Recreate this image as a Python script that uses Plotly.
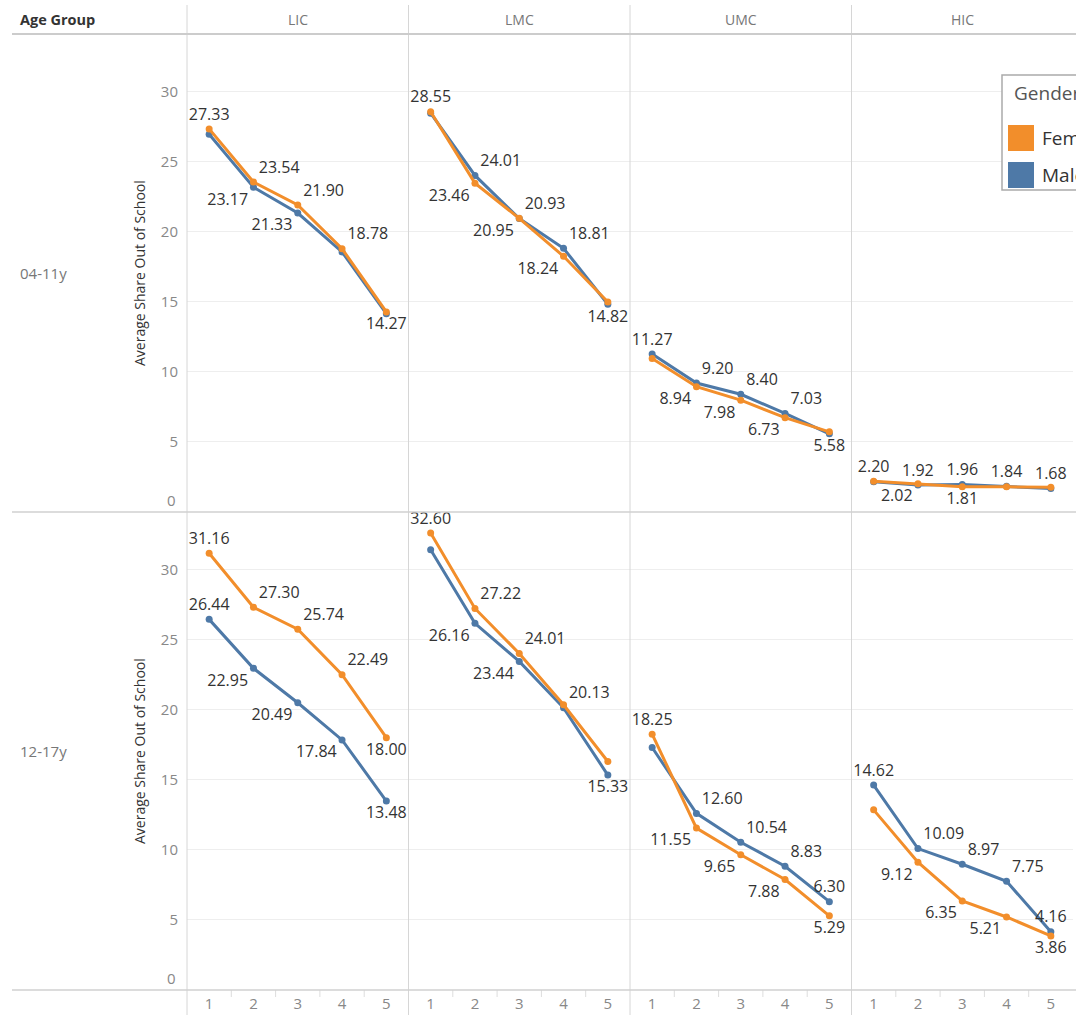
import plotly.graph_objects as go

W, H = 1076, 1015

# ---------------- data ----------------
quintiles = [1, 2, 3, 4, 5]
income_groups = ["LIC", "LMC", "UMC", "HIC"]
age_groups = ["04-11y", "12-17y"]
y_ticks = [0, 5, 10, 15, 20, 25, 30]

f_0411_lic = [27.33, 23.54, 21.90, 18.78, 14.27]
m_0411_lic = [26.95, 23.17, 21.33, 18.55, 14.15]
f_0411_lmc = [28.55, 23.46, 20.95, 18.24, 14.98]
m_0411_lmc = [28.45, 24.01, 20.93, 18.81, 14.82]
f_0411_umc = [10.95, 8.94, 7.98, 6.73, 5.72]
m_0411_umc = [11.27, 9.20, 8.40, 7.03, 5.58]
f_0411_hic = [2.20, 2.02, 1.81, 1.80, 1.76]
m_0411_hic = [2.16, 1.92, 1.96, 1.84, 1.68]

f_1217_lic = [31.16, 27.30, 25.74, 22.49, 18.00]
m_1217_lic = [26.44, 22.95, 20.49, 17.84, 13.48]
f_1217_lmc = [32.60, 27.22, 24.01, 20.35, 16.30]
m_1217_lmc = [31.40, 26.16, 23.44, 20.13, 15.33]
f_1217_umc = [18.25, 11.55, 9.65, 7.88, 5.29]
m_1217_umc = [17.30, 12.60, 10.54, 8.83, 6.30]
f_1217_hic = [12.85, 9.12, 6.35, 5.21, 3.86]
m_1217_hic = [14.62, 10.09, 8.97, 7.75, 4.16]

female = {
    "04-11y": [f_0411_lic, f_0411_lmc, f_0411_umc, f_0411_hic],
    "12-17y": [f_1217_lic, f_1217_lmc, f_1217_umc, f_1217_hic],
}
male = {
    "04-11y": [m_0411_lic, m_0411_lmc, m_0411_umc, m_0411_hic],
    "12-17y": [m_1217_lic, m_1217_lmc, m_1217_umc, m_1217_hic],
}

# ---------------- styling ----------------
ORANGE = "#F28E2B"
BLUE = "#4E79A7"
FONT = "Open Sans"
TC, TR, BL, BC, N = "top center", "top right", "bottom left", "bottom center", None
label_pos = {
    ("04-11y", 0, "F"): [TC, TR, TR, TR, BC],
    ("04-11y", 0, "M"): [N, BL, BL, N, N],
    ("04-11y", 1, "F"): [TC, BL, BL, BL, N],
    ("04-11y", 1, "M"): [N, TR, TR, TR, BC],
    ("04-11y", 2, "F"): [N, BL, BL, BL, N],
    ("04-11y", 2, "M"): [TC, TR, TR, TR, BC],
    ("04-11y", 3, "F"): [TC, BL, BC, N, N],
    ("04-11y", 3, "M"): [N, TC, TC, TC, TC],
    ("12-17y", 0, "F"): [TC, TR, TR, TR, BC],
    ("12-17y", 0, "M"): [TC, BL, BL, BL, BC],
    ("12-17y", 1, "F"): [TC, TR, TR, N, N],
    ("12-17y", 1, "M"): [N, BL, BL, TR, BC],
    ("12-17y", 2, "F"): [TC, BL, BL, BL, BC],
    ("12-17y", 2, "M"): [N, TR, TR, TR, TC],
    ("12-17y", 3, "F"): [N, BL, BL, BL, BC],
    ("12-17y", 3, "M"): [TC, TR, TR, TR, TC],
}

col_px = [187, 408.5, 630, 851.5, 1073]
row_px = [34, 512, 990]


def px(x):
    return x / W


def py(y):
    return 1 - y / H


def note(x, y, text, size, color, xanchor="center", **kw):
    return dict(x=px(x), y=py(y), xref="paper", yref="paper", text=text,
                showarrow=False, xanchor=xanchor, yanchor="middle",
                font=dict(family=FONT, size=size, color=color), **kw)


fig = go.Figure()
layout = {}
shapes = []
annotations = []

for r, age in enumerate(age_groups):
    for c, grp in enumerate(income_groups):
        idx = r * 4 + c + 1
        xa = "x" if idx == 1 else f"x{idx}"
        ya = "y" if idx == 1 else f"y{idx}"
        for g, vals, color in (("M", male[age][c], BLUE), ("F", female[age][c], ORANGE)):
            pos = label_pos[(age, c, g)]
            texts = [f"{v:.2f}" if p else "" for v, p in zip(vals, pos)]
            tpos = [p if p else "top center" for p in pos]
            fig.add_trace(go.Scatter(
                x=quintiles, y=vals, mode="lines+markers+text",
                line=dict(color=color, width=3),
                marker=dict(color=color, size=7),
                text=texts, textposition=tpos,
                textfont=dict(family=FONT, size=16, color="#333333"),
                cliponaxis=False, showlegend=False,
                name="Female" if g == "F" else "Male",
                xaxis=xa, yaxis=ya, hoverinfo="x+y+name",
            ))
        layout[("xaxis" if idx == 1 else f"xaxis{idx}")] = dict(
            domain=[px(col_px[c]), px(col_px[c + 1])],
            anchor=ya, range=[0.5, 5.5],
            tickvals=quintiles, ticktext=[str(q) for q in quintiles],
            showticklabels=(r == 1), showgrid=False, zeroline=False,
            showline=False, ticks="", ticklabelstandoff=3,
            tickfont=dict(family=FONT, size=15, color="#888888"),
        )
        layout[("yaxis" if idx == 1 else f"yaxis{idx}")] = dict(
            domain=[py(row_px[r + 1]), py(row_px[r])],
            anchor=xa, range=[0, 34.1],
            tickvals=y_ticks,
            ticktext=["" if t == 0 else str(t) for t in y_ticks],
            showticklabels=(c == 0), ticklabelstandoff=8,
            showgrid=True, gridcolor="#eeeeee", gridwidth=1,
            zeroline=False, showline=False, ticks="",
            tickfont=dict(family=FONT, size=15, color="#888888"),
        )
        # small separator ticks under the bottom row
        if r == 1:
            for q in quintiles[:-1]:
                shapes.append(dict(type="line", xref=xa, yref="paper",
                                   x0=q + 0.5, x1=q + 0.5,
                                   y0=py(990), y1=py(997),
                                   line=dict(color="#dddddd", width=1)))
        if r == 0:
            annotations.append(note((col_px[c] + col_px[c + 1]) / 2, 20, grp,
                                    14, "#777777"))

    # "0" tick label sits just above the row's bottom edge, as in the original
    annotations.append(note(178, row_px[r + 1] - 12, str(y_ticks[0]), 15,
                            "#888888", xanchor="right"))
    # row labels and axis titles
    yc = (row_px[r] + row_px[r + 1]) / 2
    annotations.append(note(18, yc, age, 15, "#777777", xanchor="left"))
    annotations.append(note(139, yc, "Average Share Out of School", 14,
                            "#333333", textangle=-90))

annotations.append(note(18, 20, "<b>Age Group</b>", 14.5, "#333333",
                        xanchor="left"))

# separators
for x in col_px[:-1]:
    shapes.append(dict(type="line", xref="paper", yref="paper",
                       x0=px(x), x1=px(x), y0=py(5), y1=0,
                       line=dict(color="#d6d6d6", width=1)))
shapes.append(dict(type="line", xref="paper", yref="paper",
                   x0=px(12), x1=1, y0=py(34), y1=py(34),
                   line=dict(color="#cccccc", width=2)))
for y in (512, 990):
    shapes.append(dict(type="line", xref="paper", yref="paper",
                       x0=px(12), x1=1, y0=py(y), y1=py(y),
                       line=dict(color="#d0d0d0", width=1.5)))

# legend (cut off at the right edge, as in the original)
shapes.append(dict(type="rect", xref="paper", yref="paper",
                   x0=px(1002), x1=px(1090), y0=py(190), y1=py(75),
                   line=dict(color="#aaaaaa", width=1.5), fillcolor="white",
                   layer="above"))
shapes.append(dict(type="rect", xref="paper", yref="paper",
                   x0=px(1008), x1=px(1034), y0=py(151), y1=py(125),
                   line=dict(color=ORANGE, width=0), fillcolor=ORANGE, layer="above"))
shapes.append(dict(type="rect", xref="paper", yref="paper",
                   x0=px(1008), x1=px(1034), y0=py(188), y1=py(162),
                   line=dict(color=BLUE, width=0), fillcolor=BLUE, layer="above"))
annotations.append(note(1012, 93, "Gender", 19, "#555555", xanchor="left"))
annotations.append(note(1040, 138, "Female", 19, "#333333", xanchor="left"))
annotations.append(note(1040, 175, "Male", 19, "#333333", xanchor="left"))

fig.update_layout(
    width=W, height=H,
    margin=dict(l=0, r=0, t=0, b=0),
    paper_bgcolor="white", plot_bgcolor="white",
    shapes=shapes, annotations=annotations,
    showlegend=False,
    **layout,
)

# remove the browser's default 8px page margin so the figure fills the window exactly
fig.write_html("out.html",
               config={"displayModeBar": False},
               post_script="document.body.style.margin='0';document.body.style.overflow='hidden';")
